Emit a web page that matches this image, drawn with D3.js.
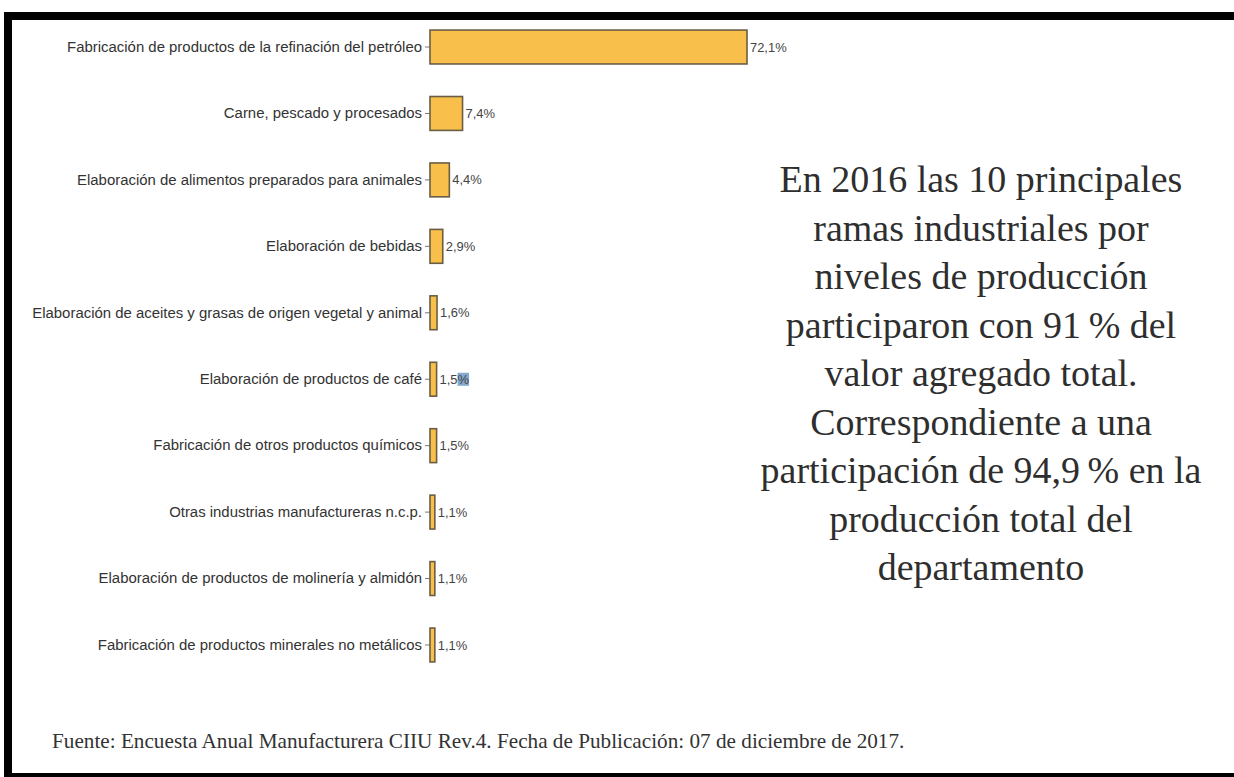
<!DOCTYPE html>
<html>
<head>
<meta charset="utf-8">
<script src="https://cdn.jsdelivr.net/npm/d3@7"></script>
<style>
  html, body { margin: 0; padding: 0; background: #fff; overflow: hidden; }
  svg { display: block; }
</style>
</head>
<body>
<svg id="chart" width="1234" height="777"></svg>
<script>
// Ramas industriales y su participación en el valor agregado (%)
const categories = [
  "Fabricación de productos de la refinación del petróleo",
  "Carne, pescado y procesados",
  "Elaboración de alimentos preparados para animales",
  "Elaboración de bebidas",
  "Elaboración de aceites y grasas de origen vegetal y animal",
  "Elaboración de productos de café",
  "Fabricación de otros productos químicos",
  "Otras industrias manufactureras n.c.p.",
  "Elaboración de productos de molinería y almidón",
  "Fabricación de productos minerales no metálicos"
];
const values = [72.1, 7.4, 4.4, 2.9, 1.6, 1.5, 1.5, 1.1, 1.1, 1.1];

const noteLines = [
  "En 2016 las 10 principales",
  "ramas industriales por",
  "niveles de producción",
  "participaron con 91\u2009% del",
  "valor agregado total.",
  "Correspondiente a una",
  "participación de 94,9\u2009% en la",
  "producción total del",
  "departamento"
];
const sourceText = "Fuente: Encuesta Anual Manufacturera CIIU Rev.4. Fecha de Publicación: 07 de diciembre de 2017.";

const svg = d3.select("#chart");
const fmt = v => d3.format(".1f")(v).replace(".", ",") + "%";

// Frame: left, top and bottom edges (the right edge runs off the page)
const frame = svg.append("g").attr("stroke", "#000").attr("stroke-width", 8);
frame.append("line").attr("x1", 8).attr("y1", 12).attr("x2", 8).attr("y2", 777);
frame.append("line").attr("x1", 4).attr("y1", 16).attr("x2", 1234).attr("y2", 16);
frame.append("line").attr("x1", 4).attr("y1", 777).attr("x2", 1234).attr("y2", 777);

const x = d3.scaleLinear().domain([0, 72.1]).range([430, 747]);
const y = d3.scaleBand().domain(categories)
  .range([13.8, 678.2]).paddingInner(0.49).paddingOuter(0.245);

// Category axis (ticks + labels, no domain line)
const axisG = svg.append("g")
  .attr("transform", `translate(${x(0)},0)`)
  .call(d3.axisLeft(y).tickSize(5).tickPadding(3));
axisG.select(".domain").remove();
axisG.selectAll(".tick line").attr("stroke", "#777").attr("stroke-width", 1);
const lbl = axisG.selectAll(".tick text")
  .attr("font-family", "'Liberation Sans', Arial, sans-serif")
  .attr("font-size", 15)
  .attr("fill", "#333");

// Condense the labels so the longest one spans its column width
let maxW = 0;
lbl.each(function () { maxW = Math.max(maxW, this.getComputedTextLength()); });
const sx = 390 / maxW;
lbl.each(function () {
  const t = d3.select(this);
  const xx = +t.attr("x");
  t.attr("x", 0).attr("transform", `translate(${xx},0) scale(${sx},1)`);
});

// Bars
svg.append("g").selectAll("rect")
  .data(values)
  .join("rect")
  .attr("x", x(0))
  .attr("y", (d, i) => y(categories[i]))
  .attr("width", d => x(d) - x(0))
  .attr("height", y.bandwidth())
  .attr("fill", "#F8C04A")
  .attr("stroke", "#6a5d44")
  .attr("stroke-width", 1.6);

// Value labels
const vl = svg.append("g").selectAll("text")
  .data(values)
  .join("text")
  .attr("transform", (d, i) => `translate(${x(d) + 3},${y(categories[i]) + y.bandwidth() / 2}) scale(${sx},1)`)
  .attr("dy", "0.35em")
  .attr("font-family", "'Liberation Sans', Arial, sans-serif")
  .attr("font-size", 13)
  .attr("fill", "#444")
  .text(d => fmt(d));

// Selection highlight on the percent sign of the coffee row
{
  const node = vl.nodes()[5];
  const n = node.getNumberOfChars();
  const ext = node.getExtentOfChar(n - 1);
  const g = d3.select(node.parentNode).insert("g", () => node)
    .attr("transform", d3.select(node).attr("transform"));
  g.append("rect")
    .attr("x", ext.x).attr("y", ext.y + 1)
    .attr("width", ext.width).attr("height", ext.height - 2)
    .attr("fill", "#5b8fbf").attr("opacity", 0.75);
}

// Note on the right
const noteFont = "'Liberation Serif', 'Times New Roman', serif";
const note = svg.append("g").attr("font-family", noteFont).attr("fill", "#2e2e2e")
  .attr("text-anchor", "middle");
const probe = note.append("text").attr("font-size", 30).text(noteLines[0]);
const noteSize = 30 * 403 / probe.node().getComputedTextLength();
probe.remove();
note.selectAll("text.line")
  .data(noteLines)
  .join("text")
  .attr("class", "line")
  .attr("x", 981)
  .attr("y", (d, i) => 192 + i * 48.5)
  .attr("font-size", noteSize)
  .text(d => d);

// Source line
const src = svg.append("text")
  .attr("x", 52).attr("y", 748)
  .attr("font-family", noteFont)
  .attr("font-size", 16)
  .attr("fill", "#333")
  .text(sourceText);
const srcW = src.node().getComputedTextLength();
src.attr("font-size", 16 * 853 / srcW);
</script>
</body>
</html>
